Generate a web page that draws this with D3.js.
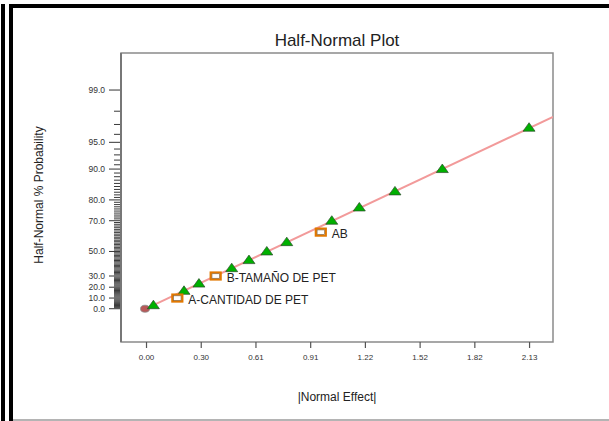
<!DOCTYPE html>
<html>
<head>
<meta charset="utf-8">
<script src="https://cdn.jsdelivr.net/npm/d3@7/dist/d3.min.js"></script>
<style>
  html, body { margin: 0; padding: 0; background: #fff; }
  svg { display: block; font-family: "Liberation Sans", Arial, sans-serif; }
</style>
</head>
<body>
<svg id="chart" width="609" height="421"></svg>
<script>
// |Normal effect| of each term, sorted ascending
const effects = [0.041, 0.174, 0.211, 0.294, 0.387, 0.476, 0.572, 0.671, 0.782, 0.971, 1.032, 1.185, 1.383, 1.646, 2.128];
// half-normal % probability of each ranked effect
const probabilities = [3.3, 10.0, 16.7, 23.3, 30.0, 36.7, 43.3, 50.0, 56.7, 63.3, 70.0, 76.7, 83.3, 90.0, 96.7];
// term names ("" = error estimate)
const terms = ["", "A-CANTIDAD DE PET", "", "", "B-TAMAÑO DE PET", "", "", "", "", "AB", "", "", "", "", ""];

// reference line through the origin
const lineEffect = [0, 2.261];
const lineProb = [0, 97.62];

// axis ticks
const xTickValues = [0, 0.304, 0.608, 0.912, 1.216, 1.520, 1.824, 2.128];
const xTickLabels = ["0.00", "0.30", "0.61", "0.91", "1.22", "1.52", "1.82", "2.13"];
const yTickValues = [0, 10, 20, 30, 50, 70, 80, 90, 95, 99];
const yTickLabels = ["0.0", "10.0", "20.0", "30.0", "50.0", "70.0", "80.0", "90.0", "95.0", "99.0"];

// inverse standard normal CDF (Acklam)
function invNorm(p) {
  const a = [-3.969683028665376e+01, 2.209460984245205e+02, -2.759285104469687e+02, 1.383577518672690e+02, -3.066479806614716e+01, 2.506628277459239e+00];
  const b = [-5.447609879822406e+01, 1.615858368580409e+02, -1.556989798598866e+02, 6.680131188771972e+01, -1.328068155288572e+01];
  const c = [-7.784894002430293e-03, -3.223964580411365e-01, -2.400758277161838e+00, -2.549671033386375e+00, 4.374664141464968e+00, 2.938163982698783e+00];
  const d = [7.784695709041462e-03, 3.224671290700398e-01, 2.445134137142996e+00, 3.754408661907416e+00];
  const pl = 0.02425, ph = 1 - pl;
  let q, r;
  if (p < pl) {
    q = Math.sqrt(-2 * Math.log(p));
    return (((((c[0]*q+c[1])*q+c[2])*q+c[3])*q+c[4])*q+c[5]) / ((((d[0]*q+d[1])*q+d[2])*q+d[3])*q+1);
  } else if (p <= ph) {
    q = p - 0.5; r = q * q;
    return (((((a[0]*r+a[1])*r+a[2])*r+a[3])*r+a[4])*r+a[5])*q / (((((b[0]*r+b[1])*r+b[2])*r+b[3])*r+b[4])*r+1);
  } else {
    q = Math.sqrt(-2 * Math.log(1 - p));
    return -(((((c[0]*q+c[1])*q+c[2])*q+c[3])*q+c[4])*q+c[5]) / ((((d[0]*q+d[1])*q+d[2])*q+d[3])*q+1);
  }
}
const halfNormalQ = pct => pct <= 0 ? 0 : invNorm(0.5 + pct / 200);

const svg = d3.select("#chart");
const plot = { left: 121, top: 53, right: 553, bottom: 342 };

const x = d3.scaleLinear().domain([-0.139, 2.261]).range([plot.left, plot.right]);
const yq = d3.scaleLinear().domain([-0.392, 3.012]).range([plot.bottom, plot.top]);
const y = pct => yq(halfNormalQ(pct));

// outer frame
svg.append("rect").attr("x", 1).attr("y", 4).attr("width", 4).attr("height", 417).attr("fill", "#000");
svg.append("rect").attr("x", 9).attr("y", 4).attr("width", 4).attr("height", 417).attr("fill", "#000");
svg.append("rect").attr("x", 9).attr("y", 4).attr("width", 600).attr("height", 4).attr("fill", "#000");
svg.append("rect").attr("x", 13).attr("y", 419).attr("width", 596).attr("height", 2).attr("fill", "#b4b4b4");

// title
svg.append("text").attr("x", (plot.left + plot.right) / 2).attr("y", 46)
  .attr("text-anchor", "middle").attr("font-size", 17).attr("fill", "#222")
  .text("Half-Normal Plot");

// plot box
svg.append("rect").attr("x", plot.left).attr("y", plot.top)
  .attr("width", plot.right - plot.left).attr("height", plot.bottom - plot.top)
  .attr("fill", "none").attr("stroke", "#8a8a8a").attr("stroke-width", 1.5);

// x axis
const xAxis = d3.axisBottom(x).tickValues(xTickValues)
  .tickFormat((d, i) => xTickLabels[i]).tickSize(6).tickSizeOuter(0);
const gx = svg.append("g").attr("transform", `translate(0,${plot.bottom})`).call(xAxis);
gx.select(".domain").remove();
gx.selectAll(".tick line").attr("stroke", "#555").attr("stroke-width", 1.2);
gx.selectAll(".tick text").attr("font-size", 8).attr("fill", "#333").attr("dy", "1.15em")
  .attr("font-family", "Liberation Sans, Arial, sans-serif");

// y axis: minor ticks every 1 %
const minorPct = d3.range(1, 99).filter(v => !yTickValues.includes(v));
svg.append("g").selectAll("line").data(minorPct).join("line")
  .attr("x1", plot.left - 7).attr("x2", plot.left)
  .attr("y1", d => y(d)).attr("y2", d => y(d))
  .attr("stroke", "#222").attr("stroke-width", 0.9);

// y axis: major ticks and labels
const gy = svg.append("g");
gy.selectAll("line").data(yTickValues).join("line")
  .attr("x1", plot.left - 12).attr("x2", plot.left)
  .attr("y1", d => y(d)).attr("y2", d => y(d))
  .attr("stroke", "#333").attr("stroke-width", 1);
gy.selectAll("text").data(yTickValues).join("text")
  .attr("x", plot.left - 16).attr("y", d => y(d)).attr("dy", "0.35em")
  .attr("text-anchor", "end").attr("font-size", 8.5).attr("fill", "#333")
  .text((d, i) => yTickLabels[i]);
svg.append("line").attr("x1", plot.left).attr("x2", plot.left)
  .attr("y1", plot.top).attr("y2", plot.bottom)
  .attr("stroke", "#777").attr("stroke-width", 2);

// axis titles
svg.append("text").attr("x", (plot.left + plot.right) / 2).attr("y", 401)
  .attr("text-anchor", "middle").attr("font-size", 12).attr("fill", "#222")
  .text("|Normal Effect|");
svg.append("text").attr("transform", "translate(43,195) rotate(-90)")
  .attr("text-anchor", "middle").attr("font-size", 12).attr("fill", "#222")
  .text("Half-Normal % Probability");

// clip for the reference line
svg.append("clipPath").attr("id", "plotClip").append("rect")
  .attr("x", plot.left).attr("y", plot.top)
  .attr("width", plot.right - plot.left).attr("height", plot.bottom - plot.top);

const lineData = lineEffect.map((e, i) => [e, lineProb[i]]);
svg.append("path").datum(lineData)
  .attr("clip-path", "url(#plotClip)")
  .attr("d", d3.line().x(d => x(d[0])).y(d => y(d[1])))
  .attr("fill", "none").attr("stroke", "#f29a9a").attr("stroke-width", 2);

// origin marker
svg.append("ellipse").attr("cx", x(lineEffect[0]) - 1).attr("cy", y(lineProb[0]))
  .attr("rx", 4.5).attr("ry", 3.5)
  .attr("fill", "#b85858").attr("stroke", "#8a8a8a").attr("stroke-width", 0.8);

// points
const pts = effects.map((e, i) => ({ e, p: probabilities[i], term: terms[i] }));
const errors = pts.filter(d => d.term === "");
const named = pts.filter(d => d.term !== "");

svg.append("g").selectAll("path").data(errors).join("path")
  .attr("d", d => {
    const cx = x(d.e), cy = y(d.p);
    return `M${cx},${cy - 5}L${cx + 6},${cy + 3.5}L${cx - 6},${cy + 3.5}Z`;
  })
  .attr("fill", "#00b000").attr("stroke", "#2a4a2a").attr("stroke-width", 0.7);

const gn = svg.append("g");
gn.selectAll("rect.outer").data(named).join("rect").attr("class", "outer")
  .attr("x", d => x(d.e) - 5).attr("y", d => y(d.p) - 3.5)
  .attr("width", 10).attr("height", 7)
  .attr("fill", "#fff").attr("stroke", "#e27800").attr("stroke-width", 2.2);
gn.selectAll("rect.inner").data(named).join("rect").attr("class", "inner")
  .attr("x", d => x(d.e) - 3.7).attr("y", d => y(d.p) - 2.2)
  .attr("width", 7.4).attr("height", 4.4)
  .attr("fill", "#fff").attr("stroke", "#5a3a10").attr("stroke-width", 0.5);
gn.selectAll("text").data(named).join("text")
  .attr("x", d => x(d.e) + 11).attr("y", d => y(d.p) + 2).attr("dy", "0.35em")
  .attr("font-size", 12).attr("fill", "#222")
  .text(d => d.term);
</script>
</body>
</html>
